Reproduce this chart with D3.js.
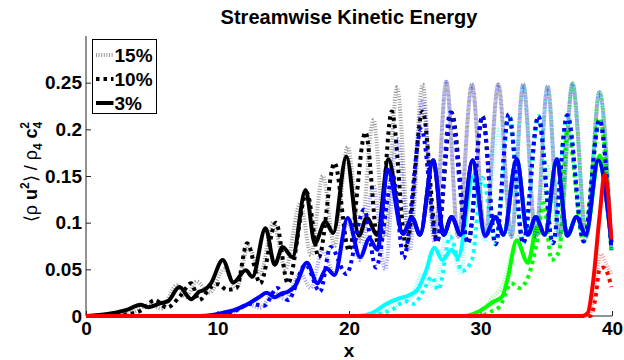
<!DOCTYPE html>
<html>
<head>
<meta charset="utf-8">
<script src="https://cdn.jsdelivr.net/npm/d3@7"></script>
<style>
  body { margin: 0; background: #fff; }
  svg text { font-family: "Liberation Sans", Arial, sans-serif; font-weight: bold; fill: #000; }
</style>
</head>
<body>
<svg id="chart" width="624" height="360"></svg>
<script>
// axis ticks + legend
const xTicks = [0, 10, 20, 30, 40];
const yTicks = [0, 0.05, 0.1, 0.15, 0.2, 0.25];
const yTickLabels = ["0", "0.05", "0.1", "0.15", "0.2", "0.25"];
const legendLabels = ["15%", "10%", "3%"];

// 3% perturbation (solid)
const black3 = [[0,0],[1,0.001],[2,0.003],[3.1,0.0065],[4.15,0.012],[4.75,0.0095],[5.65,0.0135],[6.25,0.016],[7.1,0.031],[8.0,0.018],[8.6,0.026],[9.0,0.028],[9.5,0.035],[10.4,0.060],[11.2,0.036],[12.15,0.049],[12.65,0.042],[13.65,0.094],[14.35,0.055],[14.95,0.074],[15.7,0.063],[16.7,0.135],[17.4,0.078],[18.2,0.101],[18.8,0.089],[19.8,0.171],[20.75,0.086],[21.35,0.105],[22.15,0.087],[23.0,0.168],[24.1,0.088],[24.8,0.105],[25.4,0.087],[26.4,0.167],[27.2,0.087],[27.8,0.106],[28.5,0.087],[29.4,0.167],[30.35,0.086],[31.15,0.106],[31.75,0.087],[32.75,0.168],[33.6,0.087],[34.2,0.106],[34.9,0.087],[35.8,0.168],[36.6,0.086],[37.3,0.106],[38.0,0.087],[38.95,0.167],[39.95,0.079]];
const blue3 = [[0,0],[8.6,0],[9.6,0.001],[10.6,0.004],[11.2,0.006],[11.9,0.01],[12.45,0.014],[13.15,0.02],[13.75,0.025],[14.35,0.02],[14.85,0.024],[15.35,0.026],[15.9,0.032],[16.8,0.057],[17.6,0.035],[18.3,0.051],[18.9,0.044],[19.9,0.105],[20.85,0.063],[21.55,0.083],[22.15,0.071],[22.95,0.157],[24.1,0.088],[24.8,0.105],[25.4,0.087],[26.4,0.167],[27.2,0.087],[27.8,0.106],[28.5,0.087],[29.4,0.167],[30.35,0.086],[31.15,0.106],[31.75,0.087],[32.75,0.168],[33.6,0.087],[34.2,0.106],[34.9,0.087],[35.8,0.168],[36.6,0.086],[37.3,0.106],[38.0,0.087],[38.95,0.167],[39.95,0.079]];
const cyan3 = [[0,0],[20.75,0],[21.75,0.003],[22.85,0.013],[23.85,0.019],[24.35,0.021],[25.2,0.028],[25.8,0.046],[26.5,0.073],[27.1,0.06],[27.8,0.071],[28.3,0.063],[29.45,0.15],[30.35,0.086],[31.15,0.106],[31.75,0.087],[32.75,0.168],[33.6,0.087],[34.2,0.106],[34.9,0.087],[35.8,0.168],[36.6,0.086],[37.3,0.106],[38.0,0.087],[38.95,0.167],[39.95,0.079]];
const green3 = [[0,0],[28.8,0],[29.6,0.003],[30.35,0.009],[30.95,0.015],[31.65,0.021],[32.05,0.039],[32.75,0.081],[33.6,0.057],[34.3,0.095],[34.9,0.087],[35.8,0.168],[36.6,0.086],[37.3,0.106],[38.0,0.087],[39.05,0.172],[39.95,0.08]];
const red3 = [[0,0],[37.7,0],[38.15,0.003],[38.55,0.035],[39.05,0.106],[39.45,0.152],[39.95,0.082]];

// 10% perturbation (thick dots)
const black10 = [[0,0],[2.5,0.001],[4.05,0.005],[5.25,0.017],[6.15,0.009],[7.2,0.022],[8.0,0.035],[8.6,0.017],[9.5,0.031],[10.1,0.034],[10.7,0.028],[11.45,0.03],[12.25,0.078],[13.25,0.035],[14.45,0.1],[15.35,0.035],[16.8,0.132],[17.7,0.063],[18.9,0.164],[20.0,0.07],[21.25,0.197],[22.25,0.075],[23.25,0.219],[24.35,0.075],[25.6,0.219],[26.7,0.08],[27.8,0.218],[29.05,0.078],[30.15,0.214],[31.15,0.077],[32.15,0.216],[33.25,0.078],[34.4,0.214],[35.5,0.078],[36.6,0.215],[37.85,0.08],[39.05,0.21],[39.95,0.071]];
const blue10 = [[0,0],[10.1,0],[11.1,0.004],[12.55,0.013],[13.55,0.011],[14.55,0.03],[15.35,0.017],[16.7,0.055],[17.8,0.026],[18.6,0.074],[19.8,0.045],[21.15,0.114],[22.05,0.052],[23.35,0.15],[24.15,0.062],[25.5,0.2],[26.7,0.079],[27.7,0.218],[29.05,0.078],[30.15,0.214],[31.15,0.077],[32.15,0.216],[33.25,0.078],[34.4,0.214],[35.5,0.078],[36.6,0.215],[37.85,0.08],[39.05,0.21],[39.95,0.071]];
const cyan10 = [[0,0],[21.55,0],[22.55,0.003],[23.45,0.008],[24.25,0.016],[24.9,0.013],[25.7,0.028],[26.3,0.042],[26.8,0.028],[27.7,0.085],[28.6,0.048],[29.35,0.06],[30.15,0.148],[31.15,0.077],[32.15,0.216],[33.25,0.078],[34.4,0.214],[35.5,0.078],[36.6,0.215],[37.85,0.08],[39.05,0.21],[39.95,0.071]];
const green10 = [[0,0],[29.85,0],[30.85,0.005],[31.45,0.01],[32.35,0.035],[32.95,0.03],[33.7,0.045],[34.3,0.08],[34.8,0.121],[35.4,0.06],[36.0,0.07],[36.6,0.2],[37.85,0.08],[39.05,0.212],[39.95,0.071]];
const red10 = [[0,0],[38.35,0],[38.75,0.02],[39.05,0.05],[39.35,0.052],[39.65,0.046],[39.95,0.031]];

// 15% perturbation (light dotted)
const black15 = [[0,0],[2,0.001],[3.55,0.004],[4.85,0.012],[5.75,0.008],[6.9,0.033],[7.6,0.02],[8.4,0.037],[9.4,0.025],[10.5,0.05],[11.45,0.03],[12.35,0.075],[13.25,0.045],[14.25,0.1],[15.15,0.05],[16.3,0.121],[17.1,0.065],[18.0,0.15],[18.9,0.075],[19.9,0.181],[20.85,0.08],[21.85,0.21],[22.75,0.085],[23.65,0.245],[24.6,0.085],[25.6,0.248],[26.5,0.085],[27.4,0.251],[28.3,0.085],[29.35,0.248],[30.35,0.085],[31.35,0.248],[32.35,0.085],[33.25,0.248],[34.2,0.085],[35.1,0.246],[36.0,0.085],[37.0,0.249],[38.05,0.085],[39.05,0.24],[39.95,0.07]];
const blue15 = [[0,0],[10.1,0],[11.35,0.005],[12.35,0.012],[13.25,0.009],[14.25,0.025],[15.15,0.018],[16.3,0.045],[17.1,0.03],[18.0,0.07],[18.9,0.045],[19.9,0.1],[20.85,0.06],[21.85,0.14],[22.75,0.05],[23.65,0.19],[24.6,0.07],[25.6,0.23],[26.5,0.08],[27.4,0.251],[28.3,0.085],[29.35,0.248],[30.35,0.085],[31.35,0.248],[32.35,0.085],[33.25,0.248],[34.2,0.085],[35.1,0.246],[36.0,0.085],[37.0,0.249],[38.05,0.085],[39.05,0.24],[39.95,0.07]];
const cyan15 = [[0,0],[21.55,0],[22.55,0.004],[23.65,0.012],[24.6,0.018],[25.6,0.045],[26.5,0.03],[27.5,0.09],[28.5,0.045],[29.35,0.15],[30.35,0.08],[31.35,0.2],[32.35,0.085],[33.25,0.248],[34.2,0.085],[35.1,0.246],[36.0,0.085],[37.0,0.249],[38.05,0.085],[39.05,0.24],[39.95,0.07]];
const green15 = [[0,0],[29.15,0],[30.15,0.006],[30.75,0.017],[31.75,0.036],[32.45,0.07],[33.25,0.09],[34.2,0.08],[35.1,0.16],[36.0,0.075],[37.0,0.248],[38.05,0.085],[39.05,0.24],[39.95,0.07]];
const red15 = [[0,0],[38.25,0],[38.65,0.025],[39.15,0.066],[39.55,0.056],[39.95,0.045]];

const width = 624, height = 360;
const margin = {top: 36, right: 12, bottom: 44, left: 86};

const styles = {
  "15": {width: 4, dash: "1,1.6", opacity: 0.4},
  "10": {width: 4, dash: "3.5,4", opacity: 1},
  "3":  {width: 4, dash: null, opacity: 1}
};

// plot order: earlier snapshots first, blue over cyan/green, red on top
const series = [
  {data: black15, color: "#000000", pct: "15"},
  {data: black10, color: "#000000", pct: "10"},
  {data: black3,  color: "#000000", pct: "3"},
  {data: cyan15,  color: "#00ffff", pct: "15"},
  {data: cyan10,  color: "#00ffff", pct: "10"},
  {data: cyan3,   color: "#00ffff", pct: "3"},
  {data: green15, color: "#00ff00", pct: "15"},
  {data: green10, color: "#00ff00", pct: "10"},
  {data: green3,  color: "#00ff00", pct: "3"},
  {data: blue15,  color: "#0000ff", pct: "15"},
  {data: blue10,  color: "#0000ff", pct: "10"},
  {data: blue3,   color: "#0000ff", pct: "3"},
  {data: red15,   color: "#ff0000", pct: "15"},
  {data: red10,   color: "#ff0000", pct: "10"},
  {data: red3,    color: "#ff0000", pct: "3"}
];

const svg = d3.select("#chart");

const x = d3.scaleLinear().domain([0, 40]).range([margin.left, width - margin.right]);
const y = d3.scaleLinear().domain([0, 0.3]).range([height - margin.bottom, margin.top]);

const line = d3.line()
  .x(d => x(d[0]))
  .y(d => y(d[1]))
  .curve(d3.curveMonotoneX);

// axes (MATLAB style, ticks pointing in, box off)
const xAxis = svg.append("g")
  .attr("transform", `translate(0,${y(0)})`)
  .call(d3.axisBottom(x).tickValues(xTicks).tickSize(-5).tickPadding(6).tickFormat(d3.format("d")));
const yAxis = svg.append("g")
  .attr("transform", `translate(${x(0)},0)`)
  .call(d3.axisLeft(y).tickValues(yTicks).tickSize(-5).tickPadding(4)
    .tickFormat((d, i) => yTickLabels[i]));

[xAxis, yAxis].forEach(g => {
  g.select(".domain").attr("stroke", "#222").attr("stroke-width", 1);
  g.selectAll(".tick line").attr("stroke", "#222");
  g.selectAll(".tick text").style("font-size", "19px").style("font-weight", "bold")
    .attr("fill", "#000");
});
yAxis.select(".domain").attr("d", `M0,${y(0)}V${y(0.3)}`);
xAxis.select(".domain").attr("d", `M${x(0)},0H${x(40)}`);

// curves
svg.append("g")
  .selectAll("path")
  .data(series)
  .join("path")
  .attr("d", d => line(d.data))
  .attr("fill", "none")
  .attr("stroke", d => d.color)
  .attr("stroke-width", d => styles[d.pct].width)
  .attr("stroke-dasharray", d => styles[d.pct].dash)
  .attr("stroke-opacity", d => styles[d.pct].opacity)
  .attr("stroke-linejoin", "round");

// title and labels
svg.append("text")
  .attr("x", (x(0) + x(40)) / 2)
  .attr("y", 24)
  .attr("text-anchor", "middle")
  .style("font-size", "20px")
  .text("Streamwise Kinetic Energy");

svg.append("text")
  .attr("x", (x(0) + x(40)) / 2)
  .attr("y", 357)
  .attr("text-anchor", "middle")
  .style("font-size", "19px")
  .text("x");

const ylab = svg.append("text")
  .attr("transform", `translate(37,${(y(0) + y(0.3)) / 2 - 4})rotate(-90)`)
  .attr("text-anchor", "middle")
  .style("font-size", "18px");
ylab.append("tspan").style("font-weight", "normal").text("\u27E8\u03C1 ");
ylab.append("tspan").text("u");
ylab.append("tspan").attr("dy", -8).style("font-size", "12px").text("2");
ylab.append("tspan").attr("dy", 8).style("font-weight", "normal").text("\u27E9 / \u03C1");
ylab.append("tspan").attr("dy", 5).style("font-size", "12px").text("4");
ylab.append("tspan").attr("dy", -5).text(" c");
ylab.append("tspan").attr("dy", 5).style("font-size", "12px").text("4");
ylab.append("tspan").attr("dx", -7).attr("dy", -13).style("font-size", "12px").text("2");

// legend
const legend = svg.append("g").attr("transform", "translate(92.5,39.5)");
legend.append("rect")
  .attr("width", 64).attr("height", 74)
  .attr("fill", "#fff").attr("stroke", "#000");
const entry = legend.selectAll("g.entry")
  .data(legendLabels)
  .join("g")
  .attr("class", "entry")
  .attr("transform", (d, i) => `translate(0,${15.5 + i * 24})`);
entry.append("line")
  .attr("x1", 3.5).attr("x2", 21)
  .attr("stroke", "#000")
  .attr("stroke-width", d => styles[d.replace("%", "")].width)
  .attr("stroke-dasharray", d => styles[d.replace("%", "")].dash)
  .attr("stroke-opacity", d => styles[d.replace("%", "")].opacity);
entry.append("text")
  .attr("x", 22)
  .attr("y", 7)
  .style("font-size", "19px")
  .text(d => d);
</script>
</body>
</html>
